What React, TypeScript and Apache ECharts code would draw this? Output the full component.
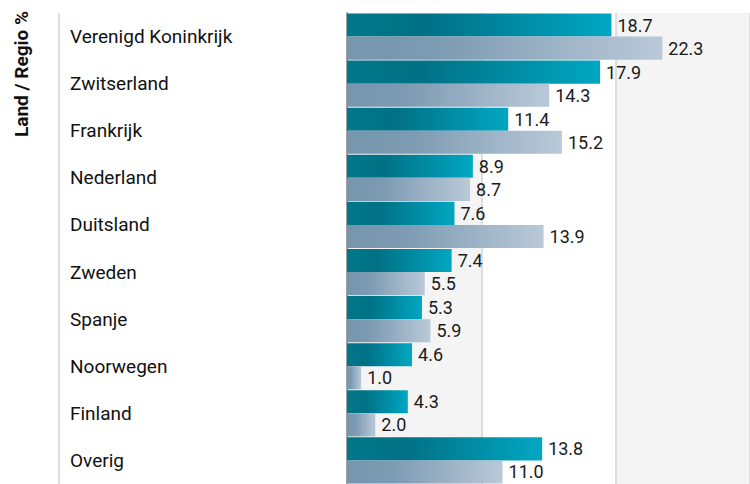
import React, { useEffect, useRef } from "react";
import * as echarts from "echarts";

const categories = [
  "Verenigd Koninkrijk",
  "Zwitserland",
  "Frankrijk",
  "Nederland",
  "Duitsland",
  "Zweden",
  "Spanje",
  "Noorwegen",
  "Finland",
  "Overig",
];
const fundValues = [18.7, 17.9, 11.4, 8.9, 7.6, 7.4, 5.3, 4.6, 4.3, 13.8];
const benchmarkValues = [22.3, 14.3, 15.2, 8.7, 13.9, 5.5, 5.9, 1.0, 2.0, 11.0];
const axisName = "Land / Regio %";

export default function App() {
  const ref = useRef<HTMLDivElement>(null);
  useEffect(() => {
    if (!ref.current) return;
    const chart = echarts.init(ref.current, null, { renderer: "svg" });
    const font = "Roboto";
    const label = {
      show: true,
      position: "right",
      distance: 6,
      fontFamily: font,
      fontSize: 18,
      color: "#1a1a1a",
      formatter: (p: any) => Number(p.value).toFixed(1),
    };
    chart.setOption({
      animation: false,
      backgroundColor: "#ffffff",
      grid: { left: 347, right: 0, top: 13, bottom: 0, containLabel: false },
      xAxis: {
        type: "value",
        min: 0,
        max: 28.5,
        interval: 9.5,
        axisLabel: { show: false },
        axisTick: { show: false },
        axisLine: { show: false },
        splitLine: { show: true, lineStyle: { color: "#dddddd", width: 2 } },
        splitArea: { show: true, areaStyle: { color: ["#f4f4f4", "#ffffff"] } },
      },
      yAxis: {
        type: "category",
        data: categories,
        inverse: true,
        axisTick: { show: false },
        axisLine: { show: true, lineStyle: { color: "#a0a0a0", width: 2 } },
        axisLabel: {
          align: "left",
          margin: 277,
          fontFamily: font,
          fontSize: 19,
          color: "#111",
        },
      },
      graphic: [
        {
          type: "line",
          shape: { x1: 59, y1: 13, x2: 59, y2: 484 },
          style: { stroke: "#dddddd", lineWidth: 2 },
        },
        {
          type: "text",
          x: 21,
          y: 74,
          rotation: Math.PI / 2,
          style: {
            text: axisName,
            fontFamily: font,
            fontWeight: "bold",
            fontSize: 19,
            fill: "#111",
            align: "center",
            verticalAlign: "middle",
          },
        },
      ],
      series: [
        {
          name: "Fonds",
          type: "bar",
          data: fundValues,
          barGap: "0%",
          barCategoryGap: "2%",
          label,
          itemStyle: {
            color: new echarts.graphic.LinearGradient(0, 0, 1, 0, [
              { offset: 0, color: "#007889" },
              { offset: 0.3, color: "#007186" },
              { offset: 1, color: "#00a7c2" },
            ]),
          },
        },
        {
          name: "Benchmark",
          type: "bar",
          data: benchmarkValues,
          barGap: "0%",
          barCategoryGap: "2%",
          label,
          itemStyle: {
            color: new echarts.graphic.LinearGradient(0, 0, 1, 0, [
              { offset: 0, color: "#7596ad" },
              { offset: 0.3, color: "#7d9bb3" },
              { offset: 1, color: "#bac9d8" },
            ]),
          },
        },
      ],
    });
    return () => chart.dispose();
  }, []);
  return (
    <div
      ref={ref}
      style={{ position: "fixed", left: 0, top: 0, width: 750, height: 484 }}
    />
  );
}
